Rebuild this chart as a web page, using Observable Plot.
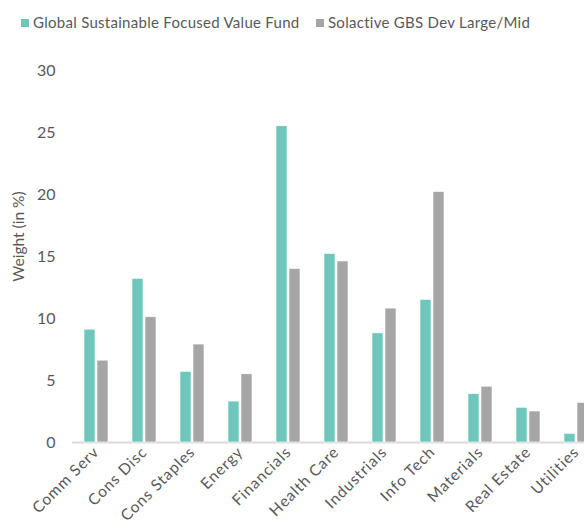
<!DOCTYPE html>
<html>
<head>
<meta charset="utf-8">
<script src="https://cdn.jsdelivr.net/npm/d3@7"></script>
<script src="https://cdn.jsdelivr.net/npm/@observablehq/plot@0.6"></script>
<style>
  html, body { margin: 0; padding: 0; background: #fff; overflow: hidden; width: 584px; height: 531px; }
  #legend { position: relative; height: 44px; width: 584px; overflow: hidden; white-space: nowrap;
    font-family: Lato, "Open Sans", sans-serif; font-size: 15px; letter-spacing: 0.28px; color: #595959; }
  .item { position: absolute; top: 13px; line-height: 18px; }
  .sw { display: inline-block; width: 8px; height: 8px; margin-right: 4px; vertical-align: 1px; }
  #chart g[aria-label="fx-axis tick label"] { font-size: 15.5px; letter-spacing: 0.9px; }
  #chart g[aria-label="y-axis tick label"] { font-size: 16px; }
</style>
</head>
<body>
<div id="legend"></div>
<div id="chart"></div>
<script>
const sectors = ["Comm Serv", "Cons Disc", "Cons Staples", "Energy", "Financials", "Health Care",
  "Industrials", "Info Tech", "Materials", "Real Estate", "Utilities"];
const series = ["Global Sustainable Focused Value Fund", "Solactive GBS Dev Large/Mid"];
const fundValues = [9.1, 13.2, 5.7, 3.3, 25.5, 15.2, 8.8, 11.5, 3.9, 2.8, 0.7];
const indexValues = [6.6, 10.1, 7.9, 5.5, 14.0, 14.6, 10.8, 20.2, 4.5, 2.5, 3.2];
const yTicks = [0, 5, 10, 15, 20, 25, 30];
const colors = ["#6DC7BD", "#A6A6A6"];

const data = [];
sectors.forEach((s, i) => {
  data.push({sector: s, series: series[0], value: fundValues[i]});
  data.push({sector: s, series: series[1], value: indexValues[i]});
});

// legend
const legend = document.getElementById("legend");
const lx = [21, 316];
series.forEach((name, i) => {
  const it = document.createElement("div");
  it.className = "item";
  it.style.left = lx[i] + "px";
  const sw = document.createElement("span");
  sw.className = "sw";
  sw.style.background = colors[i];
  it.appendChild(sw);
  it.appendChild(document.createTextNode(name));
  legend.appendChild(it);
});

const chart = Plot.plot({
  width: 584,
  height: 487,
  marginTop: 26,
  marginBottom: 89,
  marginLeft: 70,
  marginRight: -17,
  style: {fontFamily: "Lato, 'Open Sans', sans-serif", fontSize: "15px", color: "#595959", background: "transparent", overflow: "hidden"},
  fx: {domain: sectors, padding: 0, label: null, tickRotate: -45, tickSize: 0, tickPadding: 7},
  x: {domain: series, paddingInner: 0.15, paddingOuter: 0.86, axis: null},
  y: {domain: [0, 30], ticks: yTicks, tickSize: 0, tickPadding: 17, label: null},
  color: {domain: series, range: colors},
  marks: [
    Plot.ruleY([0], {stroke: "#d9d9d9", strokeWidth: 2}),
    Plot.barY(data, {fx: "sector", x: "series", y: "value", fill: "series", stroke: "white", strokeWidth: 0.6}),
    Plot.text(["Weight (in %)"], {fx: [sectors[0]], frameAnchor: "left", textAnchor: "middle", rotate: -90, dx: -53, dy: -20, fill: "#595959", fontSize: 15.5})
  ]
});
document.getElementById("chart").appendChild(chart);
</script>
</body>
</html>
